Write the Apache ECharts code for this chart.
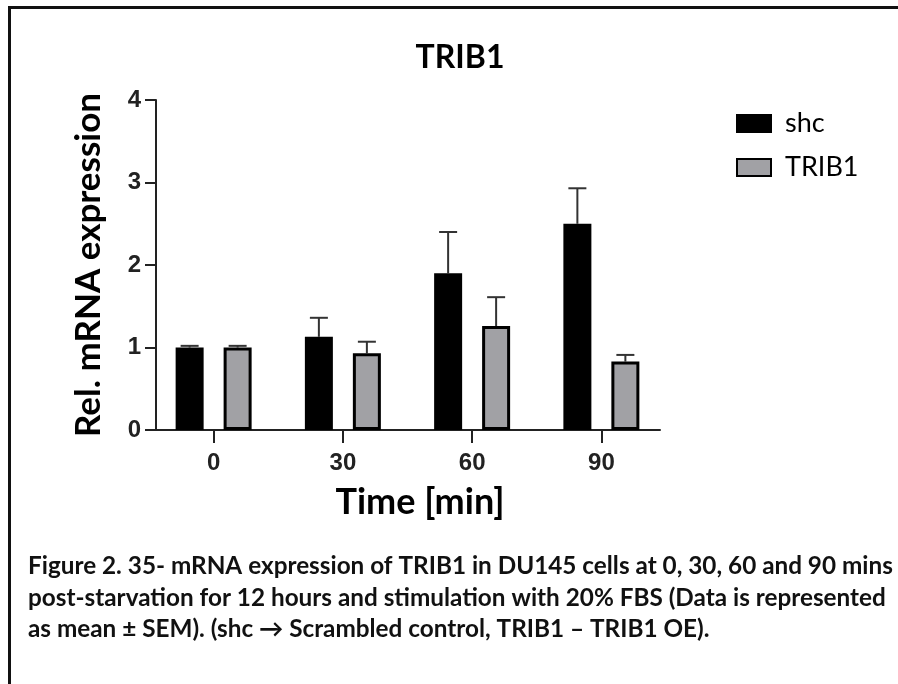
<!DOCTYPE html>
<html>
<head>
<meta charset="utf-8">
<script src="https://cdn.jsdelivr.net/npm/echarts@6/dist/echarts.min.js"></script>
<style>
html,body{margin:0;padding:0;background:#fff;}
#wrap{position:relative;width:898px;height:684px;overflow:hidden;}
#chart{width:898px;height:684px;}
#frame{position:absolute;left:8px;top:6px;width:900px;height:700px;border-top:3px solid #111;border-left:3px solid #111;pointer-events:none;}
</style>
</head>
<body>
<div id="wrap"><div id="chart"></div><div id="frame"></div></div>
<script>
const categories = ['0', '30', '60', '90'];
const shcMean = [1.0, 1.13, 1.9, 2.5];
const shcSem = [0.02, 0.23, 0.5, 0.43];
const tribMean = [1.0, 0.93, 1.26, 0.83];
const tribSem = [0.02, 0.14, 0.35, 0.08];
const yTicks = [0, 1, 2, 3, 4];
const captionLines = [
  'Figure 2. 35- mRNA expression of TRIB1 in DU145 cells at 0, 30, 60 and 90 mins',
  'post-starvation for 12 hours and stimulation with 20% FBS (Data is represented',
  'as mean \u00b1 SEM). (shc \u2192 Scrambled control, TRIB1 \u2013 TRIB1 OE).'
];

const chart = echarts.init(document.getElementById('chart'), null, {renderer: 'canvas'});
const calFont = 'Lato, "Open Sans", sans-serif';
const arialFont = '"Liberation Sans", Arial, sans-serif';

function errSeries(name, means, sems, dx) {
  return {
    type: 'custom', name: name + ' SEM', xAxisIndex: 0, yAxisIndex: 0, z: 1,
    data: means.map((m, i) => [i, m, sems[i]]),
    renderItem: function (params, api) {
      const top = api.coord([api.value(0), api.value(1) + api.value(2)]);
      const base = api.coord([api.value(0), api.value(1)]);
      const x = top[0] + dx;
      return {
        type: 'group', children: [
          {type: 'line', shape: {x1: x, y1: base[1], x2: x, y2: top[1]}, style: {stroke: '#333', lineWidth: 2}},
          {type: 'line', shape: {x1: x - 9, y1: top[1], x2: x + 9, y2: top[1]}, style: {stroke: '#333', lineWidth: 2}}
        ]
      };
    }
  };
}

const option = {
  animation: false,
  backgroundColor: '#fff',
  grid: [
    {left: 149, width: 517, top: 100, bottom: 254},
    {left: 156, width: 504, top: 100, bottom: 254}
  ],
  xAxis: [
    {type: 'category', gridIndex: 0, data: categories,
     axisLine: {show: false},
     axisTick: {show: true, alignWithLabel: true, length: 13, lineStyle: {color: '#222', width: 2}},
     axisLabel: {color: '#222', fontFamily: arialFont, fontWeight: 'bold', fontSize: 24, margin: 21}},
    {type: 'value', gridIndex: 1, min: 0, max: 1,
     axisLine: {show: true, lineStyle: {color: '#222', width: 2}},
     axisTick: {show: false}, axisLabel: {show: false}, splitLine: {show: false}}
  ],
  yAxis: [
    {type: 'value', gridIndex: 0, min: 0, max: 4, interval: 1, show: false},
    {type: 'value', gridIndex: 1, min: 0, max: 4, interval: 1,
     name: 'Rel. mRNA expression', nameLocation: 'middle', nameGap: 50,
     nameTextStyle: {color: '#000', fontFamily: calFont, fontWeight: 'bold', fontSize: 35},
     axisLine: {show: true, lineStyle: {color: '#222', width: 2}},
     axisTick: {show: true, length: 11, lineStyle: {color: '#222', width: 2}},
     axisLabel: {color: '#222', fontFamily: arialFont, fontWeight: 'bold', fontSize: 24, margin: 15,
                 formatter: v => yTicks.includes(v) ? String(v) : ''},
     splitLine: {show: false}}
  ],
  legend: {
    orient: 'vertical', left: 736, top: 110, padding: 0, itemWidth: 34, itemHeight: 17, itemGap: 17,
    icon: 'rect',
    data: ['shc', 'TRIB1'],
    textStyle: {color: '#000', fontFamily: calFont, fontSize: 27, padding: [0, 0, 0, 9]}
  },
  series: [
    errSeries('shc', shcMean, shcSem, -24),
    errSeries('TRIB1', tribMean, tribSem, 24),
    {type: 'bar', name: 'shc', xAxisIndex: 0, yAxisIndex: 0, data: shcMean, barWidth: 28, barGap: '71.4%', z: 2,
     itemStyle: {color: '#000', borderColor: '#000', borderWidth: 3}},
    {type: 'bar', name: 'TRIB1', xAxisIndex: 0, yAxisIndex: 0, data: tribMean, barWidth: 28, barGap: '71.4%', z: 2,
     itemStyle: {color: '#a1a1a5', borderColor: '#000', borderWidth: 3}}
  ],
  graphic: [
    {type: 'text', x: 460, y: 58, style: {text: 'TRIB1', font: 'bold 32px ' + calFont, fill: '#000', textAlign: 'center', textVerticalAlign: 'middle'}},
    {type: 'text', x: 420, y: 502, style: {text: 'Time [min]', font: 'bold 36px ' + calFont, fill: '#000', textAlign: 'center', textVerticalAlign: 'middle'}},
    {type: 'text', x: 28, y: 566, style: {text: captionLines[0], font: 'bold 24.3px ' + calFont, fill: '#111', textAlign: 'left', textVerticalAlign: 'middle'}},
    {type: 'text', x: 28, y: 598, style: {text: captionLines[1], font: 'bold 24.3px ' + calFont, fill: '#111', textAlign: 'left', textVerticalAlign: 'middle'}},
    {type: 'text', x: 28, y: 629, style: {text: captionLines[2], font: 'bold 24.3px ' + calFont, fill: '#111', textAlign: 'left', textVerticalAlign: 'middle'}}
  ]
};
chart.setOption(option);
</script>
</body>
</html>
